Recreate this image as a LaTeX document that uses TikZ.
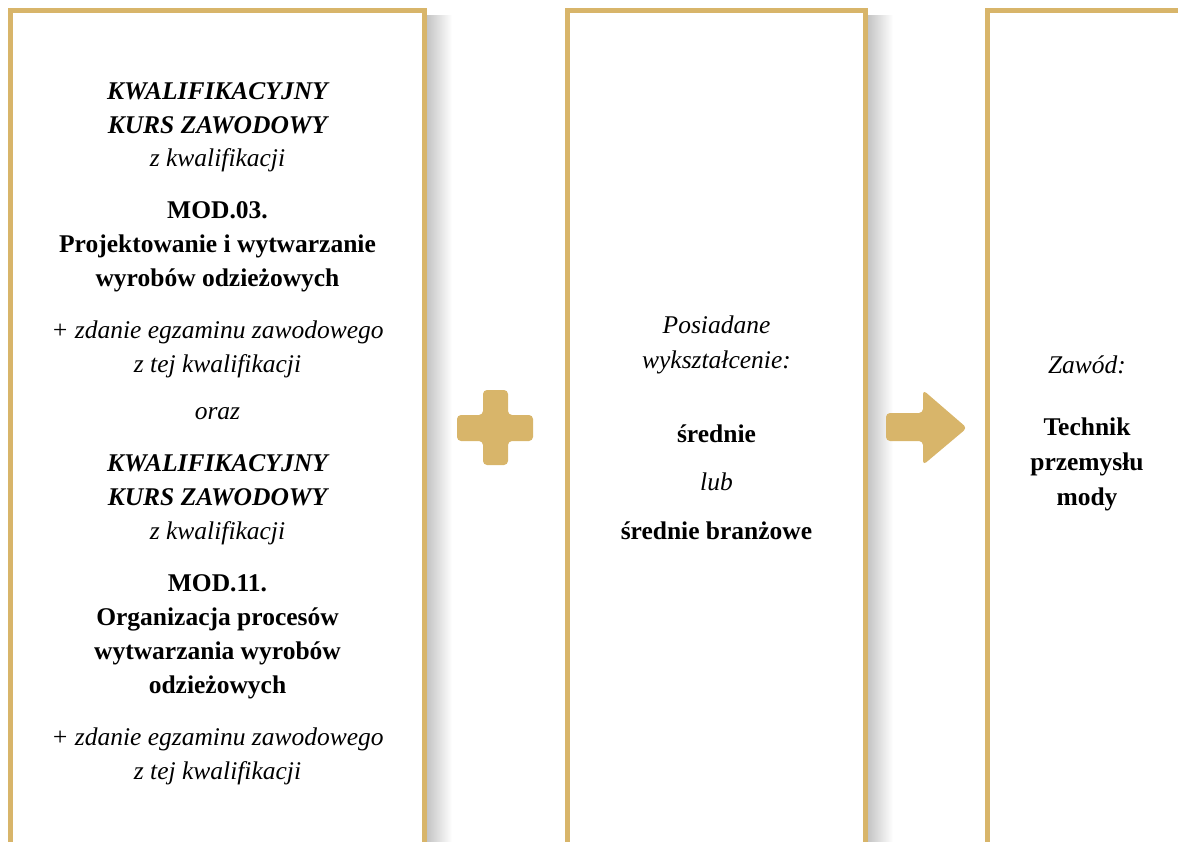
\documentclass[tikz,border=0pt]{standalone}
\usepackage{fontspec}
\setmainfont{Liberation Serif}
\definecolor{gold}{RGB}{216,181,106}
\begin{document}
\begin{tikzpicture}[x=1pt,y=-1pt,
  frame/.style={draw=gold,line width=5pt},
  shadowbar/.style={left color=black!23,right color=white,draw=none},
  txt/.style={anchor=base,inner sep=0pt,font=\fontsize{25.5}{30}\selectfont},
  it/.style={txt,font=\fontsize{25.5}{30}\selectfont\itshape},
  bf/.style={txt,font=\fontsize{25.5}{30}\selectfont\bfseries},
  bi/.style={txt,font=\fontsize{25.5}{30}\selectfont\bfseries\itshape},
  sign/.style={fill=gold,draw=none,rounded corners=4pt}]
\useasboundingbox (0,0) rectangle (1178,842);
\clip (0,0) rectangle (1178,842);
% shadows
\shade[shadowbar] (427,16) rectangle (452,842);
\shade[shadowbar] (868,16) rectangle (893,842);
% frames
\draw[frame] (10.5,870) -- (10.5,10.5) -- (424.5,10.5) -- (424.5,870);
\draw[frame] (567.5,870) -- (567.5,10.5) -- (865.5,10.5) -- (865.5,870);
\draw[frame] (987.5,870) -- (987.5,10.5) -- (1200,10.5);
% plus sign
\fill[sign] (483,390) -- (508,390) -- (508,415) -- (533,415) -- (533,441) -- (508,441) -- (508,465) -- (483,465) -- (483,441) -- (457,441) -- (457,415) -- (483,415) -- cycle;
% arrow
\fill[sign] (886,413) -- (923,413) -- (923,390) -- (967,428) -- (923,465) -- (923,441) -- (886,441) -- cycle;
% box 1 text
\node[bi] (a1) at (217.5,100) {KWALIFIKACYJNY};
\node[bi] (a2) at (217.5,134) {KURS ZAWODOWY};
\node[it] (a3) at (217.5,167) {z kwalifikacji};
\node[bf] (a4) at (217.5,219) {MOD.03.};
\node[bf] (a5) at (217.5,253) {Projektowanie i wytwarzanie};
\node[bf] (a6) at (217.5,287) {wyrobów odzieżowych};
\node[it] (a7) at (217.5,338) {+ zdanie egzaminu zawodowego};
\node[it] (a8) at (217.5,372) {z tej kwalifikacji};
\node[it] (a9) at (217.5,419) {oraz};
\node[bi] (b1) at (217.5,471) {KWALIFIKACYJNY};
\node[bi] (b2) at (217.5,505) {KURS ZAWODOWY};
\node[it] (b3) at (217.5,539) {z kwalifikacji};
\node[bf] (b4) at (217.5,591) {MOD.11.};
\node[bf] (b5) at (217.5,625) {Organizacja procesów};
\node[bf] (b6) at (217.5,659) {wytwarzania wyrobów};
\node[bf] (b7) at (217.5,693) {odzieżowych};
\node[it] (b8) at (217.5,745) {+ zdanie egzaminu zawodowego};
\node[it] (b9) at (217.5,779) {z tej kwalifikacji};
% box 2 text
\node[it] (c1) at (716.5,334) {Posiadane};
\node[it] (c2) at (716.5,368) {wykształcenie:};
\node[bf] (c3) at (716.5,442) {średnie};
\node[it] (c4) at (716.5,490) {lub};
\node[bf] (c5) at (716.5,539) {średnie branżowe};
% box 3 text
\node[it] (d1) at (1087,373) {Zawód:};
\node[bf] (d2) at (1087,435) {Technik};
\node[bf] (d3) at (1087,470) {przemysłu};
\node[bf] (d4) at (1087,505) {mody};
\end{tikzpicture}
\end{document}
